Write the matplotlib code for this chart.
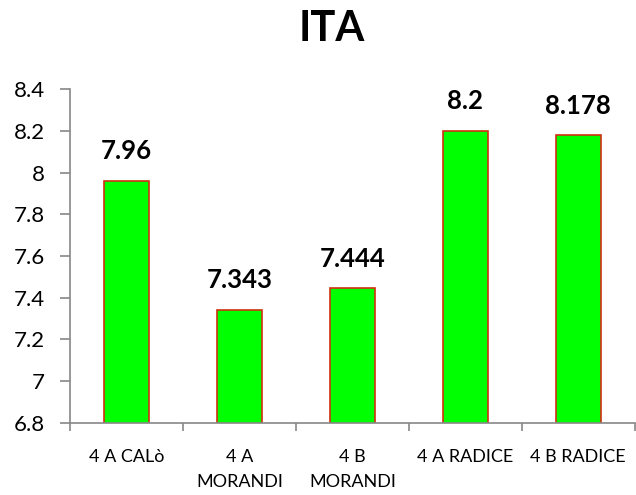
import matplotlib.pyplot as plt
import numpy as np

# data
classi = ["4 A CALò", "4 A\nMORANDI", "4 B\nMORANDI", "4 A RADICE", "4 B RADICE"]
valori = [7.96, 7.343, 7.444, 8.2, 8.178]
etichette = ["7.96", "7.343", "7.444", "8.2", "8.178"]
yticks = [6.8, 7, 7.2, 7.4, 7.6, 7.8, 8, 8.2, 8.4]
ytick_labels = ["6.8", "7", "7.2", "7.4", "7.6", "7.8", "8", "8.2", "8.4"]

plt.rcParams['font.family'] = ['Lato', 'DejaVu Sans']

fig = plt.figure(figsize=(6.36, 4.95), dpi=100)
ax = fig.add_axes([0.110, 0.146, 0.888, 0.674])

x = np.arange(len(classi))
bars = ax.bar(x, valori, width=0.4, color="#00ff00", edgecolor="#d03010", linewidth=1.2)

#value labels above the bars
for xi, v, lab in zip(x, valori, etichette):
    ax.text(xi, v + 0.085, lab, ha="center", va="bottom", fontsize=18.5, fontweight="bold")

ax.set_ylim(6.8, 8.4)
ax.set_xlim(-0.5, len(classi) - 0.5)
ax.set_yticks(yticks)
ax.set_yticklabels(ytick_labels, fontsize=16)
ax.set_xticks(x)
ax.set_xticklabels(classi, fontsize=13, va="top", linespacing=1.65)
ax.tick_params(axis="x", which="major", length=0, pad=19)
ax.set_xticks(np.arange(-0.5, len(classi) - 0.4, 1), minor=True)
ax.tick_params(axis="x", which="minor", length=6, color="#888888", width=1.2)
ax.tick_params(axis="y", length=7, color="#888888", width=1.2, pad=11)

for s in ["top", "right"]:
    ax.spines[s].set_visible(False)
for s in ["left", "bottom"]:
    ax.spines[s].set_color("#888888")
    ax.spines[s].set_linewidth(1.2)

fig.text(332 / 636, 1 - 29 / 495, "ITA", ha="center", va="center", fontsize=30, fontweight="bold")

fig.savefig("out.png", dpi=100)
